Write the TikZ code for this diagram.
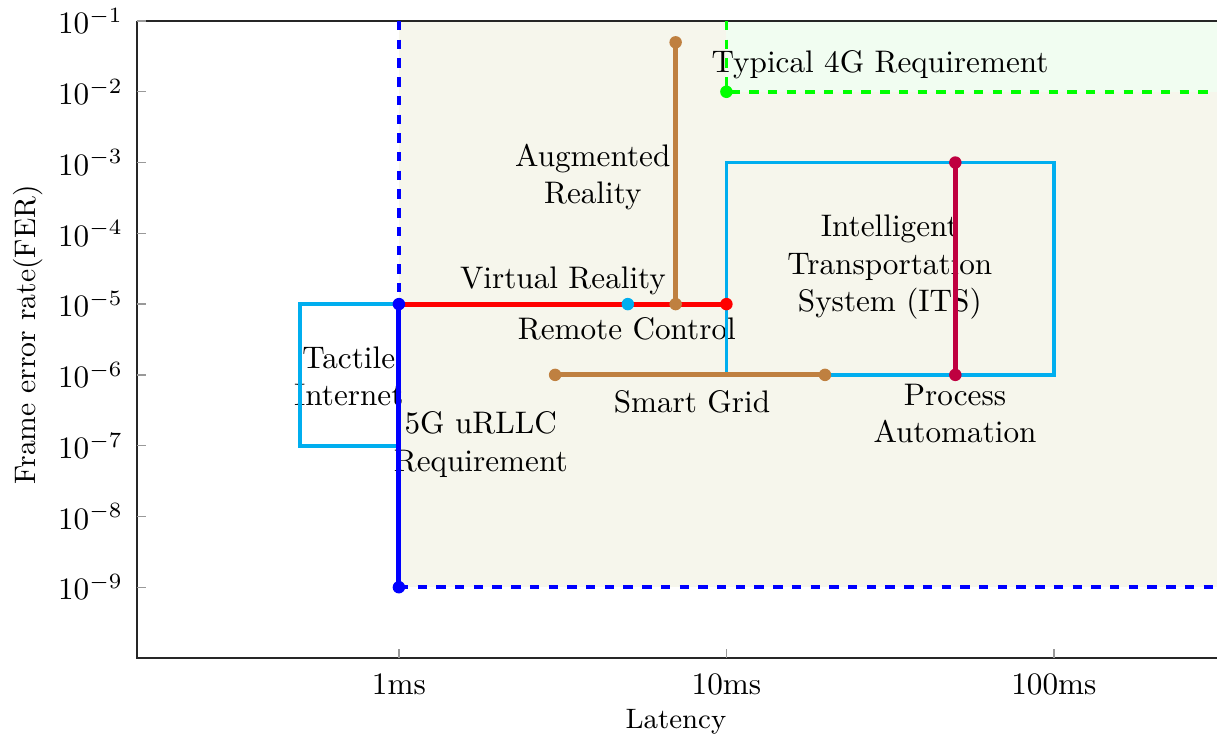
\documentclass[tikz,border=0pt]{standalone}
\definecolor{boxcyan}{RGB}{0,174,239}
\definecolor{linebrown}{RGB}{191,128,64}
\definecolor{linepurple}{RGB}{191,0,64}
\definecolor{regionbeige}{RGB}{246,246,236}
\definecolor{regiongreen}{RGB}{241,253,241}
\tikzset{
  axisline/.style={draw=black!85,line width=0.5pt},
  tickline/.style={draw=black!40,line width=0.4pt},
  reqline/.style={ultra thick},
  boxline/.style={draw=boxcyan,very thick},
  dot/.style={circle,fill,inner sep=0pt,minimum size=4pt},
  lbl/.style={align=center}
}
\begin{document}
\begin{tikzpicture}[x=105pt,y=22.69pt]
\useasboundingbox (-1.218,-11.14) rectangle (2.498,-0.703);
% shaded regions
\fill[regionbeige] (0,-9) rectangle (2.498,-1);
\fill[regiongreen] (1,-2) rectangle (2.498,-1);
% axes
\draw[axisline] (-0.8,-1) -- (2.498,-1);
\draw[axisline] (-0.8,-1) -- (-0.8,-10) -- (2.498,-10);
\foreach \e in {1,...,9} {
  \draw[tickline] (-0.8,-\e) -- ++(2.85pt,0);
  \node[anchor=east,xshift=-1pt] at (-0.8,-\e) {$10^{-\e}$};
}
\node at (0,-10.378) (t1) {1ms};
\node at (1,-10.378) (t10) {10ms};
\node at (2,-10.378) (t100) {100ms};
\foreach \x in {0,1,2}
  \draw[tickline] (\x,-10) -- ++(0,2.85pt);
\node[font=\small] at (0.846,-10.90) (xlabel) {Latency};
\node[rotate=90,font=\fontsize{9.5}{11}\selectfont] at (-1.133,-5.434) (ylabel) {Frame error rate(FER)};
% labels
\node[lbl] at (1.469,-1.622) (lte) {Typical 4G Requirement};
\node[lbl] at (0.592,-3.207) (ar) {Augmented\\Reality};
\node[lbl] at (0.501,-4.678) (vr) {Virtual Reality};
\node[lbl] at (0.696,-5.356) (rc) {Remote Control};
\node[lbl] at (1.499,-4.48) (its) {Intelligent\\Transportation\\System (ITS)};
\node[lbl] at (-0.153,-6.02) (ti) {Tactile\\Internet};
\node[lbl] at (0.895,-6.375) (sg) {Smart Grid};
\node[lbl] at (1.698,-6.545) (pa) {Process\\Automation};
\node[lbl] at (0.25,-6.983) (urllc) {5G uRLLC\\Requirement};
% points
\coordinate (uTop) at (0,-1);
\coordinate (uA) at (0,-5);
\coordinate (uB) at (0,-9);
\coordinate (uEnd) at (2.498,-9);
\coordinate (gTop) at (1,-1);
\coordinate (gA) at (1,-2);
\coordinate (gEnd) at (2.498,-2);
\coordinate (vrB) at (1,-5);
\coordinate (rcA) at (0.699,-5);
\coordinate (arA) at (0.845,-5);
\coordinate (arB) at (0.845,-1.301);
\coordinate (sgA) at (0.477,-6);
\coordinate (sgB) at (1.301,-6);
\coordinate (paA) at (1.699,-3);
\coordinate (paB) at (1.699,-6);
% boxes
\draw[boxline] (-0.301,-5) rectangle (0,-7);
\draw[boxline] (1,-3) rectangle (2,-6);
% requirements
\draw[green,very thick,dashed] (gTop) -- (gA) -- (gEnd);
\draw[blue,very thick,dashed] (uTop) -- (uA);
\draw[blue,very thick,dashed] (uB) -- (uEnd);
% applications
\draw[red,reqline] (uA) -- (vrB);
\draw[linebrown,reqline] (arA) -- (arB);
\draw[linebrown,reqline] (sgA) -- (sgB);
\draw[linepurple,reqline] (paA) -- (paB);
\draw[blue,reqline] (uA) -- (uB);
% markers
\node[dot,red] at (vrB) {};
\node[dot,boxcyan] at (rcA) {};
\node[dot,linebrown] at (arA) {};
\node[dot,linebrown] at (arB) {};
\node[dot,linebrown] at (sgA) {};
\node[dot,linebrown] at (sgB) {};
\node[dot,linepurple] at (paA) {};
\node[dot,linepurple] at (paB) {};
\node[dot,green] at (gA) {};
\node[dot,blue] at (uA) {};
\node[dot,blue] at (uB) {};
\end{tikzpicture}
\end{document}
